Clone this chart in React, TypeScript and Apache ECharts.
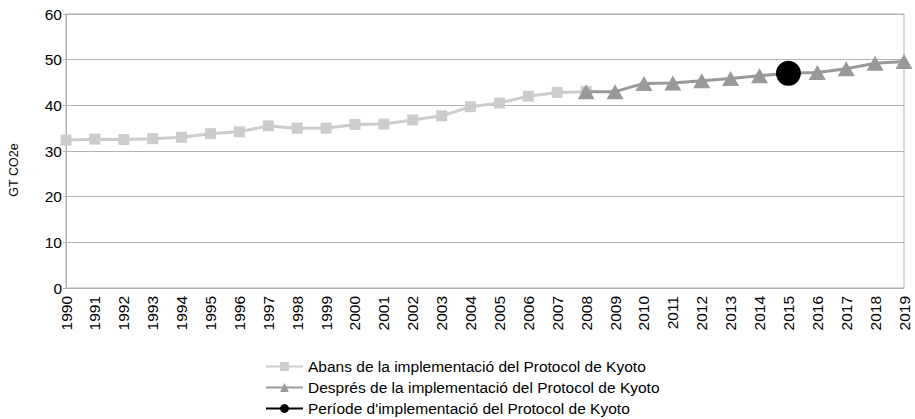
import React, { useEffect, useRef } from "react";
import * as echarts from "echarts";

const years = ["1990","1991","1992","1993","1994","1995","1996","1997","1998","1999","2000","2001","2002","2003","2004","2005","2006","2007","2008","2009","2010","2011","2012","2013","2014","2015","2016","2017","2018","2019"];

const beforeKyoto = [32.4, 32.6, 32.5, 32.7, 33.0, 33.8, 34.2, 35.5, 35.0, 35.0, 35.8, 35.9, 36.8, 37.7, 39.7, 40.5, 42.0, 42.8, 43.0, null, null, null, null, null, null, null, null, null, null, null];

const afterKyoto = [null, null, null, null, null, null, null, null, null, null, null, null, null, null, null, null, null, null, 43.0, 43.0, 44.8, 44.9, 45.4, 45.9, 46.5, 47.0, 47.2, 48.0, 49.2, 49.6];

const kyotoPeriod = [null, null, null, null, null, null, null, null, null, null, null, null, null, null, null, null, null, null, null, null, null, null, null, null, null, 47.0, null, null, null, null];

const seriesNames = [
  "Abans de la implementació del Protocol de Kyoto",
  "Després de la implementació del Protocol de Kyoto",
  "Període d'implementació del Protocol de Kyoto",
];

const yTicks = { min: 0, max: 60, interval: 10 };
const yTitle = "GT CO2e";

export default function App() {
  const ref = useRef<HTMLDivElement>(null);
  useEffect(() => {
    if (!ref.current) return;
    const chart = echarts.init(ref.current, null, { renderer: "svg" });
    const font = "'Liberation Sans', Arial, sans-serif";
    chart.setOption({
      animation: false,
      textStyle: { fontFamily: font },
      grid: { left: 66, right: 11, top: 14, bottom: 131, show: true, borderColor: "#b3b3b3", borderWidth: 1 },
      xAxis: {
        type: "category",
        data: years,
        boundaryGap: false,
        axisLine: { show: true, lineStyle: { color: "#b3b3b3" } },
        axisTick: { show: false },
        axisLabel: { rotate: 90, color: "#000", fontSize: 15.5, fontFamily: font, margin: 8, interval: 0 },
        splitLine: { show: false },
      },
      yAxis: {
        type: "value",
        min: yTicks.min,
        max: yTicks.max,
        interval: yTicks.interval,
        axisLine: { show: true, lineStyle: { color: "#b3b3b3" } },
        axisTick: { show: true, length: 3, lineStyle: { color: "#b3b3b3" } },
        axisLabel: { color: "#000", fontSize: 15.5, fontFamily: font, margin: 4 },
        splitLine: { show: true, lineStyle: { color: "#b3b3b3", width: 1 } },
      },
      legend: {
        orient: "vertical",
        left: 265,
        top: 358,
        height: 61,
        padding: 0,
        itemWidth: 37,
        itemHeight: 11,
        itemGap: 4,
        textStyle: { color: "#000", fontSize: 15.5, fontFamily: font, lineHeight: 17 },
        data: seriesNames,
      },
      graphic: [
        {
          type: "text",
          x: 14,
          y: 170,
          rotation: Math.PI / 2,
          style: { text: yTitle, fill: "#000", font: "12.5px " + font, textAlign: "center", textVerticalAlign: "middle" },
        },
      ],
      series: [
        {
          name: seriesNames[0],
          type: "line",
          data: beforeKyoto,
          symbol: "rect",
          symbolSize: 11,
          showAllSymbol: true,
          itemStyle: { color: "#cccccc" },
          lineStyle: { color: "#cccccc", width: 3 },
          z: 2,
        },
        {
          name: seriesNames[1],
          type: "line",
          data: afterKyoto,
          symbol: "triangle",
          symbolSize: [17, 15],
          showAllSymbol: true,
          itemStyle: { color: "#999999" },
          lineStyle: { color: "#999999", width: 3 },
          z: 3,
        },
        {
          name: seriesNames[2],
          type: "line",
          data: kyotoPeriod,
          symbol: "circle",
          symbolSize: 25,
          showAllSymbol: true,
          itemStyle: { color: "#000000" },
          lineStyle: { color: "#000000", width: 3 },
          z: 4,
        },
      ],
    });
    return () => chart.dispose();
  }, []);
  return <div ref={ref} style={{ width: 915, height: 419, position: "absolute", left: 0, top: 0 }} />;
}
